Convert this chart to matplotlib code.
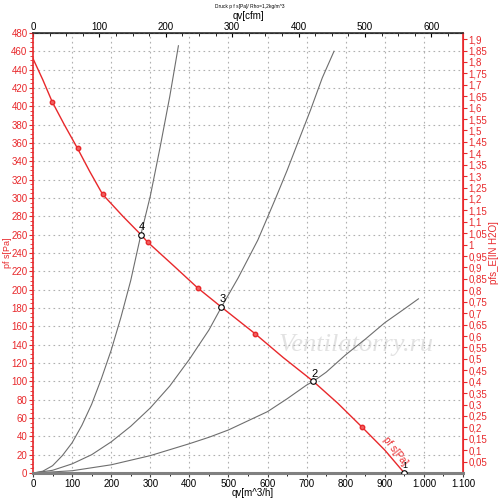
import matplotlib.pyplot as plt
from matplotlib.ticker import MultipleLocator, FuncFormatter
import numpy as np

plt.rcParams['font.family'] = ['Liberation Sans', 'DejaVu Sans']

# fan curve p_fs [Pa] over qv [m^3/h]
fan_q = [0, 25, 49, 80, 114, 145, 178, 230, 276, 293, 360, 421, 482, 568, 640, 717, 780, 842, 900, 950]
fan_p = [452, 429, 405, 380, 354, 329, 304, 280, 260, 252, 226, 202, 181, 152, 126, 100, 76, 50, 25, 0]
mark_q = [49, 114, 178, 293, 421, 568, 842]
mark_p = [405, 354, 304, 252, 202, 152, 50]

# system curves
sys1_q = [0, 25, 50, 75, 100, 125, 150, 175, 200, 225, 250, 276, 300, 325, 350, 372]
sys1_p = [0, 2, 8, 19, 33, 52, 75, 103, 134, 170, 210, 260, 302, 355, 411, 466]
sys2_q = [0, 50, 100, 150, 200, 250, 300, 350, 400, 450, 482, 525, 575, 620, 650, 679, 710, 740, 770]
sys2_p = [0, 3, 10, 20, 34, 51, 71, 95, 124, 156, 181, 213, 254, 299, 330, 362, 396, 431, 460]
sys3_q = [0, 100, 200, 300, 400, 450, 500, 550, 600, 650, 700, 717, 750, 800, 850, 900, 950, 986]
sys3_p = [0, 2.5, 9, 19, 32, 39, 47, 57, 67, 81, 96, 100, 110, 129, 146, 164, 179, 190]

# operating points
op_labels = ['1', '2', '3', '4']
op_q = [950, 717, 482, 276]
op_p = [0, 100, 181, 260]

red = '#e8282b'
gray = '#6e6e6e'

fig = plt.figure(figsize=(5, 4.99), dpi=100)
ax = fig.add_axes([0.066, 0.052, 0.86, 0.882])

ax.text(826, 140, 'Ventilatorry.ru', fontsize=19, style='italic',
        family='Liberation Serif', color='#e2e2e2', ha='center', va='center', zorder=0)

ax.plot(sys1_q, sys1_p, color=gray, lw=0.8)
ax.plot(sys2_q, sys2_p, color=gray, lw=0.8)
ax.plot(sys3_q, sys3_p, color=gray, lw=0.8)
ax.plot(fan_q, fan_p, color=red, lw=1.0, zorder=3)
ax.plot(mark_q, mark_p, 'o', color=red, ms=3.2, mfc='#f06060', zorder=4)
ax.plot(op_q, op_p, 'o', color='black', mfc='white', ms=4, mew=0.8, zorder=5)
for lab, q, p in zip(op_labels, op_q, op_p):
    ax.text(q + 2, p + 3, lab, fontsize=8 if lab != '1' else 6.5, ha='center', va='bottom', zorder=6)
ax.text(926, 24, 'pf s[Pa]', color=red, fontsize=7, rotation=-52, ha='center', va='center')

ax.set_xlim(0, 1100)
ax.set_ylim(0, 480)
ax.xaxis.set_major_locator(MultipleLocator(100))
ax.xaxis.set_minor_locator(MultipleLocator(50))
ax.yaxis.set_major_locator(MultipleLocator(20))
ax.yaxis.set_minor_locator(MultipleLocator(5))
ax.xaxis.set_major_formatter(FuncFormatter(lambda v, p: f'{int(v):,}'.replace(',', '.')))
ax.grid(True, color='#b0b0b0', ls=(0, (1.5, 3)), lw=0.8)

ax.tick_params(axis='x', labelsize=7, length=3, color='#444444', pad=1)
ax.tick_params(axis='x', which='minor', length=2)
ax.tick_params(axis='y', labelsize=7, colors=red, length=3, pad=1)
ax.tick_params(axis='y', which='minor', length=2, colors=red)
ax.spines['left'].set_color(red)
ax.spines['left'].set_linewidth(1.2)
ax.spines['right'].set_color(red)
ax.spines['right'].set_linewidth(1.2)
ax.spines['bottom'].set_color('#808080')
ax.spines['bottom'].set_linewidth(2.2)
ax.spines['top'].set_color('#333333')
ax.spines['top'].set_linewidth(1.2)

ax.set_xlabel('qv[m^3/h]', fontsize=7, labelpad=0)
ax.xaxis.set_label_coords(0.51, -0.033)
ax.set_ylabel('pf s[Pa]', fontsize=6.5, color=red)
ax.yaxis.set_label_coords(-0.049, 0.5)

top = ax.secondary_xaxis('top', functions=(lambda q: q / 1.699, lambda c: c * 1.699))
top.set_xticks([0, 100, 200, 300, 400, 500, 600])
top.set_xticks(np.arange(0, 650, 25), minor=True)
top.tick_params(labelsize=7, direction='in', length=3, pad=1)
top.tick_params(which='minor', direction='in', length=2)
top.set_xlabel('qv[cfm]', fontsize=7, labelpad=2)

def inch_fmt(v, p):
    s = f'{v:.2f}'.rstrip('0').rstrip('.')
    return s.replace('.', ',')

right = ax.secondary_yaxis('right', functions=(lambda p: p / 249.09, lambda i: i * 249.09))
right.set_yticks([round(t, 2) for t in np.arange(0.05, 1.91, 0.05)])
right.yaxis.set_major_formatter(FuncFormatter(inch_fmt))
right.tick_params(labelsize=7, colors=red, length=3, pad=1)
right.set_ylabel('pfs_E[IN H2O]', fontsize=7, color=red, labelpad=1)
right.spines['right'].set_color(red)

fig.text(0.5, 0.987, 'Druck p f s[Pa]/ Rho=1,2kg/m^3', fontsize=3.5, ha='center', va='center')

fig.savefig('out.png', dpi=100)
